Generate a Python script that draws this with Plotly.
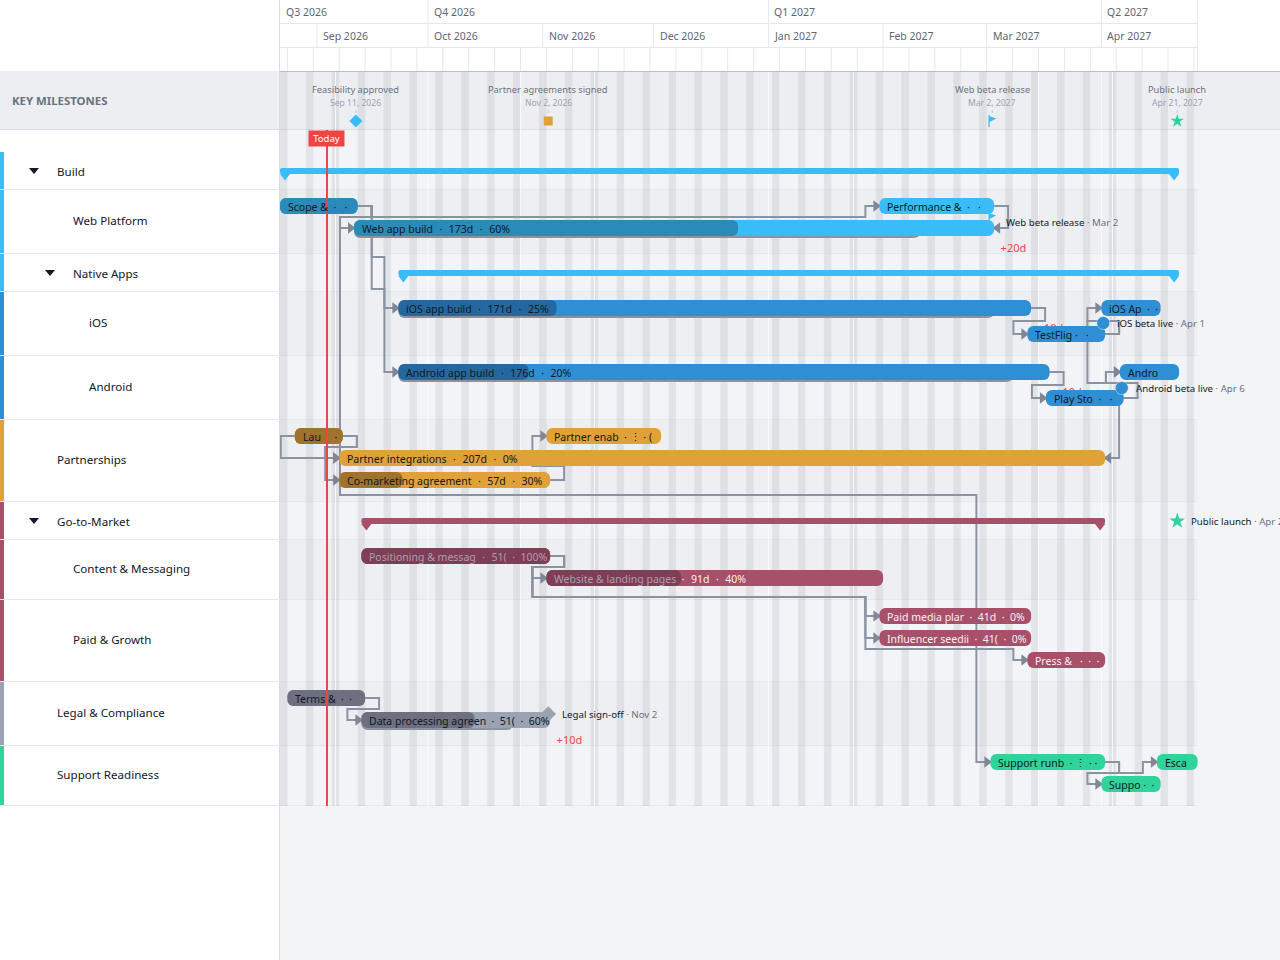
import plotly.graph_objects as go
import pandas as pd

W, H = 1280, 960
LEFT = 280
PPD = 3.7
T0 = pd.Timestamp("2026-08-22")
FONT = "Noto Sans"

# ---- data ----
row_names = ["Build", "Web Platform", "Native Apps", "iOS", "Android", "Partnerships", "Go-to-Market",
             "Content & Messaging", "Paid & Growth", "Legal & Compliance", "Support Readiness"]
row_heights = [38, 64, 38, 64, 64, 82, 38, 60, 82, 64, 60]
row_indent = [57, 73, 73, 89, 89, 57, 57, 73, 73, 57, 57]
row_colors = ["#38bdf8", "#38bdf8", "#38bdf8", "#2f8fd4", "#2f8fd4", "#e0a138", "#a84f6a",
              "#a84f6a", "#a84f6a", "#9aa3b2", "#2fd49a"]
collapsible = ["Build", "Native Apps", "Go-to-Market"]

quarter_names = ["Q3 2026", "Q4 2026", "Q1 2027", "Q2 2027"]
quarter_starts = ["2026-08-22", "2026-10-01", "2027-01-01", "2027-04-01"]
month_names = ["Sep 2026", "Oct 2026", "Nov 2026", "Dec 2026", "Jan 2027", "Feb 2027", "Mar 2027", "Apr 2027"]
month_starts = ["2026-09-01", "2026-10-01", "2026-11-01", "2026-12-01", "2027-01-01", "2027-02-01", "2027-03-01", "2027-04-01"]
grid_end = "2027-04-27"
today = "2026-09-03T17:00"
light_lines = ["2026-09-06", "2026-10-01", "2026-10-26", "2026-11-15", "2027-01-01", "2027-01-24",
               "2027-03-15", "2027-04-01", "2027-04-04"]

summary_rows = ["Build", "Native Apps", "Go-to-Market"]
summary_starts = ["2026-08-22", "2026-09-23", "2026-09-13"]
summary_days = [243, 211, 201]

task_ids = ["scope", "web", "perf", "ios", "tf", "iosa", "android", "playsto", "andro", "launch", "penab", "pint",
            "comk", "pos", "site", "paid", "infl", "press", "terms", "dpa", "runb", "esc", "supp"]
task_rows = ["Web Platform", "Web Platform", "Web Platform", "iOS", "iOS", "iOS", "Android", "Android", "Android",
             "Partnerships", "Partnerships", "Partnerships", "Partnerships", "Content & Messaging", "Content & Messaging",
             "Paid & Growth", "Paid & Growth", "Paid & Growth", "Legal & Compliance", "Legal & Compliance",
             "Support Readiness", "Support Readiness", "Support Readiness"]
task_lanes = [0, 1, 0, 0, 1, 0, 0, 1, 0, 0, 0, 1, 2, 0, 1, 0, 1, 2, 0, 1, 0, 0, 1]
task_starts = ["2026-08-22", "2026-09-11", "2027-01-31", "2026-09-23", "2027-03-12", "2027-04-01", "2026-09-23",
               "2027-03-17", "2027-04-06", "2026-08-26", "2026-11-02", "2026-09-07", "2026-09-07", "2026-09-13",
               "2026-11-02", "2027-01-31", "2027-01-31", "2027-03-12", "2026-08-24", "2026-09-13", "2027-03-02",
               "2027-04-16", "2027-04-01"]
task_days = [21, 173, 31, 171, 21, 16, 176, 21, 16, 13, 31, 207, 57, 51, 91, 41, 41, 21, 21, 51, 31, 11, 16]
task_progress = [100, 60, 0, 25, 0, 0, 20, 0, 0, 100, 0, 0, 30, 100, 40, 0, 0, 0, 100, 60, 0, 0, 0]
task_slip_days = [0, 20, 0, 10, 0, 0, 10, 0, 0, 0, 0, 0, 0, 0, 0, 0, 0, 0, 0, 10, 0, 0, 0]
SP = "\u00a0"
HS = "\u200a"
SEP = SP*2 + HS + "·" + HS + SP*2
task_labels = ["Scope &" + SP*2 + "·" + SP*3 + "·",
               "Web app build" + SEP + "173d" + SEP + "60%",
               "Performance &" + SP*2 + "·" + SP*3 + "·",
               "iOS app build" + SEP + "171d" + SEP + "25%",
               "TestFlig" + SP + "·" + SP*3 + "·",
               "iOS Ap" + SP*2 + "·" + SP*2 + "·",
               "Android app build" + SEP + "176d" + SEP + "20%",
               "Play Sto" + SP*2 + "·" + SP*3 + "·",
               "Andro",
               "Lau" + SP*5 + "·",
               "Partner enab" + SP*2 + "·" + SP + "⋮" + SP + "·" + SP + "(",
               "Partner integrations" + SEP + "207d" + SEP + "0%",
               "Co-marketing agreement" + SEP + "57d" + SEP + "30%",
               "Positioning & messag" + SEP + "51(" + SP*2 + "·" + SP*2 + "100%",
               "Website & landing pages" + SP*2 + "·" + SP*2 + HS + "91d" + SEP + "40%",
               "Paid media plar" + SP*2 + "·" + SP*2 + "41d" + SP*2 + "·" + SP*2 + "0%",
               "Influencer seedii" + SP*2 + "·" + SP*2 + "41(" + SP*2 + "·" + SP*2 + "0%",
               "Press &" + SP*3 + "·" + SP*2 + "·" + SP*2 + "·",
               "Terms &" + SP*2 + "·" + SP*2 + "·",
               "Data processing agreen" + SP*2 + "·" + SP*2 + "51(" + SP*2 + "·" + SP*2 + "60%",
               "Support runb" + SP*2 + "·" + SP + "⋮" + SP + "·" + SP + "·",
               "Esca",
               "Suppo" + SP + "·" + SP*2 + "·"]
muted_chars = {"pos": 60, "site": 23}
dark_shade = {"#38bdf8": "#2a8bb8", "#2f8fd4": "#25689f", "#e0a138": "#a0722b", "#a84f6a": "#7f3d56",
              "#9aa3b2": "#6e7080", "#2fd49a": "#22a077"}

# from, to, kind, lanes, via (tasks whose start-gap is a vertical)
dependencies = [
    ("scope", "web", "FS", [], []),
    ("scope", "perf", "FS", [], []),
    ("scope", "ios", "FS", [257], []),
    ("scope", "android", "FS", [289], []),
    ("scope", "runb", "FS", [217, 495], ["web"]),
    ("perf", "web", "FF", [], []),
    ("ios", "tf", "FS", [321], []),
    ("tf", "iosa", "FS", [321], []),
    ("tf", "andro", "FS", [321, 383], ["iosa"]),
    ("android", "playsto", "FS", [385], []),
    ("playsto", "andro", "FS", [383], []),
    ("playsto", "pint", "FF", [], []),
    ("launch", "pint", "SS", [], []),
    ("launch", "pint", "FS", [], []),
    ("launch", "comk", "FS", [447], []),
    ("comk", "penab", "FS", [466], []),
    ("pos", "site", "FS", [], []),
    ("pos", "paid", "FS", [567, 597], ["site"]),
    ("pos", "infl", "FS", [567, 597], ["site"]),
    ("pos", "press", "FS", [567, 597, 649], ["site", "paid"]),
    ("terms", "dpa", "FS", [], []),
    ("runb", "supp", "FS", [], []),
    ("runb", "esc", "FS", [], []),
]

top_ms_names = ["Feasibility approved", "Partner agreements signed", "Web beta release", "Public launch"]
top_ms_dates = ["2026-09-11", "2026-11-02", "2027-03-02", "2027-04-21"]
top_ms_dateText = ["Sep 11, 2026", "Nov 2, 2026", "Mar 2, 2027", "Apr 21, 2027"]
top_ms_symbols = ["diamond", "square", "flag", "star"]
top_ms_colors = ["#38bdf8", "#e0a138", "#38bdf8", "#2fd49a"]

inline_names = ["Web beta release", "iOS beta live", "Android beta live", "Public launch", "Legal sign-off"]
inline_dates = ["2027-03-02", "2027-04-01", "2027-04-06", "2027-04-21", "2026-11-02"]
inline_short = ["Mar 2", "Apr 1", "Apr 6", "Apr 21", "Nov 2"]
inline_rows = ["Web Platform", "iOS", "Android", "Go-to-Market", "Legal & Compliance"]
inline_symbols = ["flag", "circle", "circle", "star", "diamond"]
inline_colors = ["#38bdf8", "#2f8fd4", "#2f8fd4", "#2fd49a", "#9aa3b2"]


# ---- helpers ----
def D(s, px=0.0):
    return (pd.Timestamp(s) + pd.Timedelta(days=px / PPD)).isoformat()


MS = 86400000
row_top = {}
_y = 152
for n, h in zip(row_names, row_heights):
    row_top[n] = _y
    _y += h
row_center = {n: row_top[n] + h / 2 for n, h in zip(row_names, row_heights)}
GRID_BOTTOM = _y

lane_gap = {"iOS": 26, "Android": 26}
task_y = {i: row_top[r] + 16 + lane_gap.get(r, 22) * l for i, r, l in zip(task_ids, task_rows, task_lanes)}
task_s = dict(zip(task_ids, task_starts))
task_e = {i: (pd.Timestamp(s) + pd.Timedelta(days=d)).isoformat() for i, s, d in zip(task_ids, task_starts, task_days)}

fig = go.Figure()
shapes, annos = [], []


def rect(x0, x1, y0, y1, color, xref="x"):
    shapes.append(dict(type="rect", xref=xref, yref="y", x0=x0, x1=x1, y0=y0, y1=y1,
                       fillcolor=color, line=dict(width=0), layer="below"))


def line(x0, x1, y0, y1, color, xref="x", width=1):
    shapes.append(dict(type="line", xref=xref, yref="y", x0=x0, x1=x1, y0=y0, y1=y1,
                       line=dict(color=color, width=width), layer="below"))


def text(x, y, s, size=10.5, color="#1f2937", xref="x", anchor="left", shift=0, yshift=0):
    annos.append(dict(x=x, y=y, xref=xref, yref="y", text=s, showarrow=False, xanchor=anchor, yanchor="middle",
                      xshift=shift, yshift=yshift, font=dict(family=FONT, size=size, color=color),
                      borderpad=0, borderwidth=0))


# ---- backgrounds ----
px = lambda v: v / W
rect(0, 1, 0, 960, "#f3f4f6", "paper")
rect(px(LEFT), 1, 0, 71, "#ffffff", "paper")
rect(px(LEFT), 1, 72, 129.5, "#edeef1", "paper")
for i, (n, h) in enumerate(zip(row_names, row_heights)):
    rect(T0.isoformat(), grid_end, row_top[n], row_top[n] + h, "#eeeff2" if i % 2 else "#f3f4f7")
    line(T0.isoformat(), grid_end, row_top[n] + h - 0.5, row_top[n] + h - 0.5, "#e6e8ec")
# weekend bands
d = T0
while d < pd.Timestamp(grid_end):
    rect(d.isoformat(), (d + pd.Timedelta(days=2)).isoformat(), 72, GRID_BOTTOM, "rgba(107,114,128,0.12)")
    d += pd.Timedelta(days=7)
for s in light_lines:
    line(s, s, 72, GRID_BOTTOM, "rgba(255,255,255,0.75)")
line(px(LEFT), 1, 129.5, 129.5, "#dcdee3", "paper")
line(px(LEFT), 1, 71.5, 71.5, "#b9bdc8", "paper", 1)

# header grid
line(T0.isoformat(), grid_end, 23.5, 23.5, "#e5e7eb")
line(T0.isoformat(), grid_end, 47.5, 47.5, "#e5e7eb")
for n, s in zip(quarter_names, quarter_starts):
    if s != quarter_starts[0]:
        line(s, s, 0, 23.5, "#e5e7eb")
    text(s, 12, n, 10.5, "#5f6673", shift=6)
for n, s in zip(month_names, month_starts):
    line(s, s, 24, 47.5, "#e5e7eb")
    text(s, 36, n, 10.5, "#5f6673", shift=6)
line(grid_end, grid_end, 0, 71, "#e5e7eb")
d = T0 + pd.Timedelta(days=2)
while d < pd.Timestamp(grid_end):
    line(d.isoformat(), d.isoformat(), 48, 71, "#e5e7eb")
    d += pd.Timedelta(days=7)

# ---- left panel ----
rect(0, px(LEFT), 0, 960, "#ffffff", "paper")
rect(0, px(LEFT), 71, 129.5, "#edeef1", "paper")
line(0, px(LEFT), 129.5, 129.5, "#dcdee3", "paper")
line(px(279.5), px(279.5), 0, 960, "#d8dbe0", "paper")
annos.append(dict(x=px(10), y=100, xref="paper", yref="y", text="<b>KEY MILESTONES</b>", showarrow=False,
                  xanchor="left", yanchor="middle", font=dict(family=FONT, size=11.4, color="#6b7280")))
for n, h, ind, c in zip(row_names, row_heights, row_indent, row_colors):
    rect(0, px(4), row_top[n], row_top[n] + h - 1, c, "paper")
    line(0, px(LEFT), row_top[n] + h - 0.5, row_top[n] + h - 0.5, "#e6e8ec", "paper")
    text(px(ind), row_center[n], n, 11.6, "#111827", "paper", yshift=-0.5 if n in collapsible else 1.5)
    if n in collapsible:
        cx = ind - 23
        cy = row_center[n]
        p = "M%f,%f L%f,%f L%f,%f Z" % (px(cx - 5), cy - 3, px(cx + 5), cy - 3, px(cx), cy + 3)
        shapes.append(dict(type="path", xref="paper", yref="y", path=p, fillcolor="#111827",
                           line=dict(width=0), layer="above"))

# ---- layer 1: dependency lines + hidden slip labels ----
GAP = 14
arrow_x, arrow_y = [], []
arrow_lx, arrow_ly = [], []
for src, dst, kind, lanes, via in dependencies:
    y1, y2 = task_y[src], task_y[dst]
    if kind == "FS":
        ls = lanes if lanes else [y1 + 11]
        xs = [D(task_e[src]), D(task_e[src], GAP)]
        ys = [y1, y1]
        mids = [D(task_s[v], -GAP) for v in via] + [D(task_s[dst], -GAP)]
        for lane, m in zip(ls, mids):
            xs += [xs[-1], m]
            ys += [lane, lane]
        xs += [xs[-1], D(task_s[dst])]
        ys += [y2, y2]
        arrow_x.append(D(task_s[dst], -3.5))
        arrow_y.append(y2)
    elif kind == "SS":
        xs = [D(task_s[src]), D(task_s[src], -GAP), D(task_s[src], -GAP), D(task_s[dst])]
        ys = [y1, y1, y2, y2]
        arrow_x.append(D(task_s[dst], -3.5))
        arrow_y.append(y2)
    else:  # FF
        xs = [D(task_e[src]), D(task_e[dst], GAP), D(task_e[dst], GAP), D(task_e[dst])]
        ys = [y1, y1, y2, y2]
        arrow_lx.append(D(task_e[dst], 3.5))
        arrow_ly.append(y2)
    fig.add_trace(go.Scatter(x=xs, y=ys, mode="lines", line=dict(color="#8b93a3", width=2), hoverinfo="skip",
                             xaxis="x", yaxis="y"))
fig.add_trace(go.Scatter(x=arrow_x, y=arrow_y, mode="markers", hoverinfo="skip", xaxis="x", yaxis="y",
                         marker=dict(symbol="triangle-right", size=10, color="#7f8797", line=dict(width=0))))
fig.add_trace(go.Scatter(x=arrow_lx, y=arrow_ly, mode="markers", hoverinfo="skip", xaxis="x", yaxis="y",
                         marker=dict(symbol="triangle-left", size=10, color="#7f8797", line=dict(width=0))))

slip_x, slip_y, slip_t = [], [], []
for i, sl in zip(task_ids, task_slip_days):
    if sl:
        slip_x.append(D(task_e[i], 6.5))
        slip_y.append(task_y[i] + 21)
        slip_t.append("+%dd" % sl)
fig.add_trace(go.Scatter(x=slip_x, y=slip_y, text=slip_t, mode="text", textposition="middle right", hoverinfo="skip",
                         xaxis="x", yaxis="y", textfont=dict(family=FONT, size=11, color="#ef4444")))

# ---- layer 2: bars ----
row_color = dict(zip(row_names, row_colors))
task_color = [row_color[r] for r in task_rows]
bl = [(i, s, d - sl) for i, s, d, sl in zip(task_ids, task_starts, task_days, task_slip_days) if sl]
fig.add_trace(go.Bar(orientation="h", y=[task_y[b[0]] + 2 for b in bl], base=[b[1] for b in bl],
                     x=[b[2] * MS for b in bl], width=16, xaxis="x2", yaxis="y2", hoverinfo="skip",
                     marker=dict(color="#8b93a3", cornerradius=6, line=dict(width=0))))
fig.add_trace(go.Bar(orientation="h", y=[task_y[i] for i in task_ids], base=task_starts,
                     x=[d * MS for d in task_days], width=16, xaxis="x2", yaxis="y2", hoverinfo="skip",
                     marker=dict(color=task_color, cornerradius=6, line=dict(width=0))))
pr = [(i, s, d * p / 100, dark_shade[c]) for i, s, d, p, c in zip(task_ids, task_starts, task_days, task_progress, task_color) if p]
fig.add_trace(go.Bar(orientation="h", y=[task_y[b[0]] for b in pr], base=[b[1] for b in pr],
                     x=[b[2] * MS for b in pr], width=16, xaxis="x2", yaxis="y2", hoverinfo="skip",
                     marker=dict(color=[b[3] for b in pr], cornerradius=6, line=dict(width=0))))
fig.add_trace(go.Bar(orientation="h", y=[row_center[r] for r in summary_rows], base=summary_starts,
                     x=[d * MS for d in summary_days], width=6, xaxis="x2", yaxis="y2", hoverinfo="skip",
                     marker=dict(color=[row_color[r] for r in summary_rows], cornerradius=2, line=dict(width=0))))

# summary end caps
cap_x, cap_y, cap_c = [], [], []
for r, s, dd in zip(summary_rows, summary_starts, summary_days):
    e = (pd.Timestamp(s) + pd.Timedelta(days=dd)).isoformat()
    cap_x += [D(s, 5), D(e, -5)]
    cap_y += [row_center[r] + 5, row_center[r] + 5]
    cap_c += [row_color[r], row_color[r]]
fig.add_trace(go.Scatter(x=cap_x, y=cap_y, mode="markers", hoverinfo="skip", xaxis="x3", yaxis="y3",
                         marker=dict(symbol="triangle-down", size=9, color=cap_c, line=dict(width=0))))

# task labels
for i, lab, c in zip(task_ids, task_labels, task_color):
    light = c == "#a84f6a"
    col = "#fbeff3" if light else "#111827"
    if i in muted_chars:
        n = muted_chars[i]
        lab = '<span style="color:#ab9fae">%s</span>%s' % (lab[:n], lab[n:])
    text(task_s[i], task_y[i], lab, 10.5, col, shift=8, yshift=-1)

# ---- layer 3: milestones, today ----
def flag_shape(date, y):
    shapes.append(dict(type="path", xref="x", yref="y", xsizemode="pixel", ysizemode="pixel", xanchor=date, yanchor=y,
                       path="M-3.8,6 L-3.8,-6 L-2.6,-6 L-2.6,-1 L4,2.5 L-2.6,4.8 L-2.6,6 Z",
                       fillcolor="#38bdf8", line=dict(width=0), layer="above"))


MS_Y = 121
for n, dt, tx, sym, c in zip(top_ms_names, top_ms_dates, top_ms_dateText, top_ms_symbols, top_ms_colors):
    mid = D(dt, 0.5 * PPD)
    text(mid, 89.5, n, 9.3, "#6b7280", anchor="center")
    text(mid, 102.5, tx, 8.6, "#9aa3b2", anchor="center")
    fig.add_trace(go.Scatter(x=[mid, mid], y=[110, 113], mode="lines", line=dict(color="#c5c9d2", width=1),
                             hoverinfo="skip", xaxis="x3", yaxis="y3"))
    if sym == "flag":
        flag_shape(mid, MS_Y)
    else:
        sz = {"diamond": 10, "square": 9, "star": 10}[sym]
        fig.add_trace(go.Scatter(x=[mid], y=[MS_Y], mode="markers", hoverinfo="skip", xaxis="x3", yaxis="y3",
                                 marker=dict(symbol=sym, size=sz, color=c, line=dict(width=0))))

inline_rowy = {"Web Platform": 218, "iOS": 323, "Android": 388, "Go-to-Market": 521, "Legal & Compliance": 714}
for n, dt, tx, r, sym, c in zip(inline_names, inline_dates, inline_short, inline_rows, inline_symbols, inline_colors):
    mid = D(dt, 0.5 * PPD)
    y = inline_rowy[r]
    if sym == "flag":
        flag_shape(mid, y)
        ty = 222
    else:
        sz = {"circle": 13, "star": 12, "diamond": 12}[sym]
        fig.add_trace(go.Scatter(x=[mid], y=[y], mode="markers", hoverinfo="skip", xaxis="x3", yaxis="y3",
                                 marker=dict(symbol=sym, size=sz, color=c,
                                             line=dict(width=1 if sym == "circle" else 0, color="rgba(255,255,255,0.4)"))))
        ty = y
    text(mid, ty, '%s<span style="color:#6b7280"> · %s</span>' % (n, tx), 9.7, "#111827", shift=14)

fig.add_trace(go.Scatter(x=[today, today], y=[130, GRID_BOTTOM], mode="lines", line=dict(color="#ef4444", width=2),
                         hoverinfo="skip", xaxis="x3", yaxis="y3"))
annos.append(dict(x=today, y=138, xref="x", yref="y", text="Today", showarrow=False, xanchor="center", yanchor="middle",
                  xshift=-1, font=dict(family=FONT, size=9.5, color="#ffffff"), bgcolor="#ef4444",
                  width=35, height=15, borderpad=0))

# ---- layout ----
x_range = [T0.isoformat(), (T0 + pd.Timedelta(days=(W - LEFT) / PPD)).isoformat()]
xa = dict(type="date", range=x_range, domain=[LEFT / W, 1], visible=False, fixedrange=True)
ya = dict(range=[H, 0], domain=[0, 1], visible=False, fixedrange=True)
fig.update_layout(
    width=W, height=H, margin=dict(l=0, r=0, t=0, b=0), paper_bgcolor="#ffffff", plot_bgcolor="rgba(0,0,0,0)",
    showlegend=False, barmode="overlay", shapes=shapes, annotations=annos,
    font=dict(family=FONT),
    xaxis=xa, yaxis=dict(ya, anchor="x"),
    xaxis2=dict(xa, overlaying="x", anchor="y2"), yaxis2=dict(ya, overlaying="y", anchor="x2"),
    xaxis3=dict(xa, overlaying="x", anchor="y3"), yaxis3=dict(ya, overlaying="y", anchor="x3"),
)
fig.write_html("out.html", config=dict(displayModeBar=False),
               post_script="document.documentElement.style.margin='0';document.body.style.margin='0';")
